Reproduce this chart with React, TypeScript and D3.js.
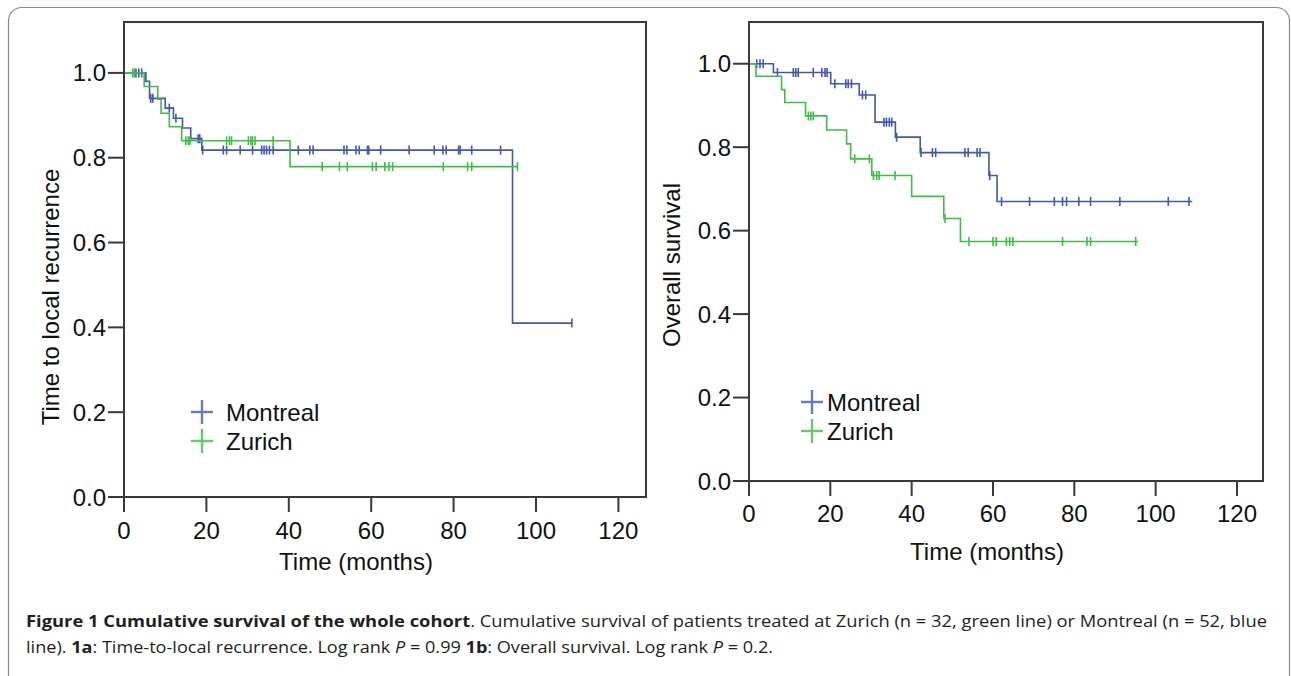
import * as d3 from "d3";

// ---- data ----
type Step = [number, number]; // [time in months, survival after the drop]

// 1a: time to local recurrence
const recMontrealSteps: Step[] = [[0, 1], [5.3, 0.98], [6.2, 0.94], [10, 0.917], [12, 0.893], [14.2, 0.87], [16.2, 0.845], [18.9, 0.818], [94.3, 0.41]];
const recMontrealEnd = 108.7;
const recMontrealCensor = [2.9, 3.6, 4.3, 6.5, 7.0, 11.0, 12.6, 18.0, 18.4, 19.1, 24.1, 24.9, 28.2, 31.2, 33.4, 34.0, 34.6, 35.3, 36.2, 42.3, 45.1, 45.9, 53.4, 54.1, 56.3, 57.1, 59.1, 59.4, 62.3, 69.2, 75.3, 77.4, 78.2, 81.2, 81.6, 84.4, 91.4, 108.7];

const recZurichSteps: Step[] = [[0, 1], [4.9, 0.968], [8.2, 0.938], [9.0, 0.905], [11, 0.873], [14, 0.84], [40.3, 0.779]];
const recZurichEnd = 95.5;
const recZurichCensor = [2.1, 2.5, 15.0, 15.6, 16.0, 24.9, 25.6, 26.1, 30.2, 30.8, 31.2, 31.8, 36.2, 48.1, 52.3, 54.2, 60.3, 61.2, 63.3, 64.3, 65.2, 77.5, 83.4, 84.4, 95.5];

// 1b: overall survival
const osMontrealSteps: Step[] = [[0, 1], [6, 0.979], [20.1, 0.952], [27.1, 0.925], [31, 0.86], [36, 0.824], [42.1, 0.787], [59, 0.732], [61, 0.67]];
const osMontrealEnd = 109.0;
const osMontrealCensor = [1.9, 2.7, 3.5, 7.0, 10.9, 11.5, 12.1, 15.8, 17.9, 18.7, 19.2, 21.1, 23.8, 24.4, 25.2, 27.9, 28.7, 33.2, 33.8, 34.5, 35.1, 36.3, 42.3, 45.1, 45.9, 53.1, 53.9, 56.1, 56.8, 59.2, 62.1, 69.0, 75.1, 77.1, 78.1, 81.1, 84.0, 91.2, 103.1, 108.2];

const osZurichSteps: Step[] = [[0, 1], [1.7, 0.97], [8, 0.938], [8.8, 0.907], [13.9, 0.875], [19.1, 0.841], [24, 0.808], [25, 0.772], [30.2, 0.732], [40, 0.682], [47.9, 0.629], [52, 0.574]];
const osZurichEnd = 95.7;
const osZurichCensor = [14.6, 15.2, 15.8, 26.0, 29.6, 30.6, 31.4, 32.0, 35.9, 48.2, 54.1, 60.0, 60.8, 63.3, 64.1, 64.9, 77.1, 83.1, 84.0, 95.1];

const xTicks = [0, 20, 40, 60, 80, 100, 120];
const yTicks = [0, 0.2, 0.4, 0.6, 0.8, 1.0];
const groups = ["Montreal", "Zurich"];

const BLUE = "#4058b0";
const GREEN = "#3fbd47";
const AXIS = "#3a3a3a";
const FONT = "'Liberation Sans', Arial, sans-serif";
const CAPTION_FONT = "'Open Sans', 'Noto Sans', sans-serif";

type Series = {steps: Step[]; end: number; censor: number[]; color: string};

type PanelProps = {
    left: number; right: number; top: number; bottom: number;
    xMax: number; yMax: number;
    series: Series[];
    yTitle: string; yTitleX: number; yTitleY: number;
    xTitleX: number; xTitleY: number; xLabelY: number;
    legendX: number; legendY: number; legendGap: number; legendTextDx: number;
};

function survivalAt(steps: Step[], t: number) {
    let s = steps[0][1];
    for (const [time, v] of steps) {
        if (time <= t) s = v;
    }
    return s;
}

function Panel(p: PanelProps) {
    const x = d3.scaleLinear().domain([0, p.xMax]).range([p.left, p.right]);
    const y = d3.scaleLinear().domain([0, p.yMax]).range([p.bottom, p.top]);

    const line = d3.line<Step>()
        .x((d) => x(d[0]))
        .y((d) => y(d[1]))
        .curve(d3.curveStepAfter);

    return (
        <g fontFamily={FONT}>
            {p.series.map((s, i) => {
                const pts: Step[] = [...s.steps, [s.end, s.steps[s.steps.length - 1][1]]];
                return (
                    <g key={i} stroke={s.color} fill="none" strokeWidth={1.6}>
                        <path d={line(pts) ?? ""}/>
                        {s.censor.map((t, j) => {
                            const cy = y(survivalAt(s.steps, t));
                            return <line key={j} x1={x(t)} x2={x(t)} y1={cy - 4.5} y2={cy + 4.5}/>;
                        })}
                    </g>
                );
            })}

            {/* box */}
            <rect x={p.left} y={p.top} width={p.right - p.left} height={p.bottom - p.top}
                  fill="none" stroke={AXIS} strokeWidth={2}/>

            {yTicks.map((t) => (
                <g key={t}>
                    <line x1={p.left - 16} x2={p.left} y1={y(t)} y2={y(t)} stroke={AXIS} strokeWidth={2}/>
                    <text x={p.left - 18} y={y(t)} textAnchor="end" dominantBaseline="central"
                          fontSize={24} fill="#111">{t.toFixed(1)}</text>
                </g>
            ))}
            {xTicks.map((t) => (
                <g key={t}>
                    <line x1={x(t)} x2={x(t)} y1={p.bottom} y2={p.bottom + 15} stroke={AXIS} strokeWidth={2}/>
                    <text x={x(t)} y={p.xLabelY} textAnchor="middle" dominantBaseline="central"
                          fontSize={24} fill="#111">{t}</text>
                </g>
            ))}

            <text x={p.xTitleX} y={p.xTitleY} textAnchor="middle" fontSize={24}
                  fill="#111">Time (months)</text>
            <text transform={`translate(${p.yTitleX},${p.yTitleY}) rotate(-90)`} textAnchor="middle"
                  dominantBaseline="central" fontSize={24} fill="#111">{p.yTitle}</text>

            {groups.map((g, i) => {
                const cy = p.legendY + i * p.legendGap;
                const c = p.series[i].color;
                return (
                    <g key={g}>
                        <g stroke={c} strokeWidth={2.4} opacity={0.8}>
                            <line x1={p.legendX - 11} x2={p.legendX + 11} y1={cy} y2={cy}/>
                            <line x1={p.legendX} x2={p.legendX} y1={cy - 12} y2={cy + 12}/>
                        </g>
                        <text x={p.legendX + p.legendTextDx} y={cy} dominantBaseline="central"
                              fontSize={24} fill="#111">{g}</text>
                    </g>
                );
            })}
        </g>
    );
}

export default function App() {
    return (
        <svg width={1291} height={676} style={{position: "absolute", left: 0, top: 0, background: "#fff"}}>
            <rect x={8.5} y={7.5} width={1281} height={720} rx={13} fill="#fff" stroke="#8a8a8a" strokeWidth={1.2}/>

            <Panel left={124} right={646} top={22} bottom={497} xMax={126.7} yMax={1.12}
                   series={[
                       {steps: recMontrealSteps, end: recMontrealEnd, censor: recMontrealCensor, color: BLUE},
                       {steps: recZurichSteps, end: recZurichEnd, censor: recZurichCensor, color: GREEN},
                   ]}
                   yTitle="Time to local recurrence" yTitleX={50} yTitleY={297}
                   xTitleX={356} xTitleY={570} xLabelY={530}
                   legendX={202} legendY={412} legendGap={29} legendTextDx={24}/>

            <Panel left={749} right={1263} top={22} bottom={481} xMax={126.4} yMax={1.1}
                   series={[
                       {steps: osMontrealSteps, end: osMontrealEnd, censor: osMontrealCensor, color: BLUE},
                       {steps: osZurichSteps, end: osZurichEnd, censor: osZurichCensor, color: GREEN},
                   ]}
                   yTitle="Overall survival" yTitleX={671} yTitleY={265}
                   xTitleX={987} xTitleY={560} xLabelY={513}
                   legendX={812} legendY={402} legendGap={29} legendTextDx={15}/>

            <g fontFamily={CAPTION_FONT} fontSize={16} fill="#231f20">
                <text x={26} y={627} textLength={1241} lengthAdjust="spacingAndGlyphs">
                    <tspan fontWeight="bold">Figure 1 Cumulative survival of the whole cohort</tspan>
                    <tspan>. Cumulative survival of patients treated at Zurich (n = 32, green line) or Montreal (n = 52, blue</tspan>
                </text>
                <text x={26} y={653} textLength={747} lengthAdjust="spacingAndGlyphs">
                    <tspan>line). </tspan>
                    <tspan fontWeight="bold">1a</tspan>
                    <tspan>: Time-to-local recurrence. Log rank </tspan>
                    <tspan fontStyle="italic">P</tspan>
                    <tspan> = 0.99 </tspan>
                    <tspan fontWeight="bold">1b</tspan>
                    <tspan>: Overall survival. Log rank </tspan>
                    <tspan fontStyle="italic">P</tspan>
                    <tspan> = 0.2.</tspan>
                </text>
            </g>
        </svg>
    );
}
